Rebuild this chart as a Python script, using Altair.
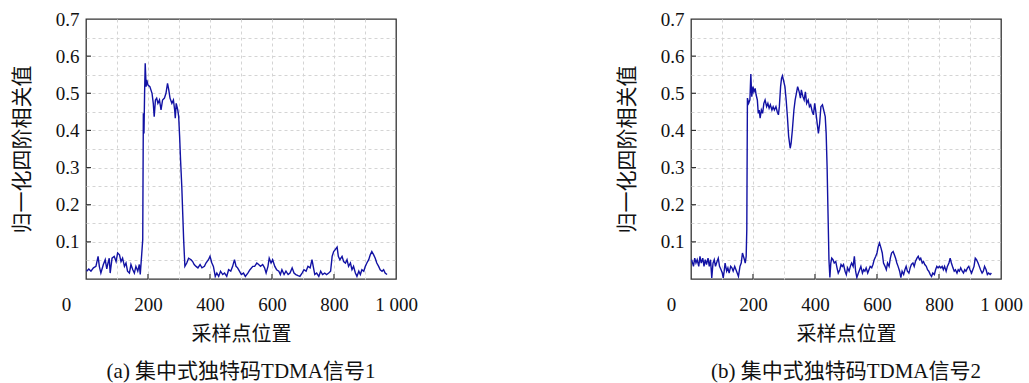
import altair as alt
import pandas as pd

# ---------------- data ----------------
x_a = [2, 9, 16, 24, 32, 39, 43, 48, 56, 62, 67, 71, 75, 78, 84, 91, 97, 102, 108, 113,
       118, 124, 129, 134, 140, 145, 151, 156, 161, 167, 172, 175, 180, 183, 185, 187, 189, 191, 194, 196,
       200, 206, 213, 217, 220, 224, 228, 232, 237, 242, 247, 253, 258, 263, 267, 271, 277, 282, 286, 288,
       291, 296, 299, 302, 305, 309, 312, 315, 319, 325, 331, 339, 344, 349, 355, 361, 368, 374, 382, 387,
       395, 400, 406, 411, 417, 422, 428, 434, 441, 447, 454, 460, 467, 473, 479, 484, 489, 495, 501, 508,
       514, 522, 529, 538, 544, 551, 557, 563, 570, 576, 581, 587, 591, 597, 602, 609, 615, 622, 627, 632,
       639, 645, 652, 658, 665, 671, 677, 684, 690, 697, 703, 710, 716, 723, 729, 733, 738, 744, 751, 757,
       763, 770, 776, 783, 789, 794, 799, 804, 810, 814, 819, 826, 831, 837, 842, 847, 853, 858, 863, 869,
       874, 880, 885, 890, 896, 901, 906, 912, 917, 922, 928, 933, 938, 944, 949, 955, 960, 965, 971]
y_a = [0.021, 0.027, 0.021, 0.030, 0.034, 0.061, 0.034, 0.016, 0.039, 0.052, 0.027, 0.043, 0.056, 0.016, 0.056, 0.061, 0.047, 0.070, 0.065, 0.047,
       0.056, 0.034, 0.043, 0.021, 0.016, 0.039, 0.025, 0.016, 0.034, 0.021, 0.039, 0.012, 0.070, 0.106, 0.446, 0.392, 0.500, 0.581, 0.518, 0.536,
       0.522, 0.518, 0.500, 0.473, 0.437, 0.482, 0.487, 0.473, 0.482, 0.455, 0.482, 0.487, 0.500, 0.527, 0.509, 0.487, 0.473, 0.482, 0.455, 0.433,
       0.473, 0.455, 0.437, 0.384, 0.321, 0.249, 0.177, 0.106, 0.034, 0.043, 0.056, 0.052, 0.047, 0.039, 0.034, 0.030, 0.039, 0.030, 0.034, 0.043,
       0.052, 0.061, 0.043, 0.034, 0.007, 0.016, 0.007, 0.021, 0.012, 0.016, 0.007, 0.025, 0.021, 0.034, 0.052, 0.034, 0.030, 0.021, 0.012, 0.016,
       0.007, 0.016, 0.025, 0.034, 0.034, 0.043, 0.039, 0.034, 0.039, 0.030, 0.016, 0.034, 0.056, 0.043, 0.052, 0.034, 0.025, 0.021, 0.012, 0.025,
       0.012, 0.021, 0.012, 0.016, 0.030, 0.016, 0.012, 0.009, 0.007, 0.016, 0.025, 0.021, 0.034, 0.030, 0.052, 0.034, 0.012, 0.016, 0.007, 0.021,
       0.012, 0.016, 0.012, 0.016, 0.021, 0.061, 0.074, 0.079, 0.086, 0.061, 0.052, 0.061, 0.047, 0.043, 0.052, 0.034, 0.043, 0.025, 0.034, 0.016,
       0.007, 0.021, 0.012, 0.025, 0.021, 0.034, 0.043, 0.052, 0.065, 0.074, 0.065, 0.056, 0.043, 0.034, 0.025, 0.021, 0.025, 0.016, 0.012]

x_b = [2, 8, 12, 16, 20, 25, 29, 33, 38, 42, 46, 50, 55, 59, 63, 67, 71, 75, 79, 84,
       88, 92, 97, 101, 104, 107, 110, 115, 119, 123, 128, 132, 136, 141, 145, 149, 153, 158, 162, 166,
       171, 175, 178, 180, 182, 186, 190, 193, 196, 200, 203, 207, 210, 214, 217, 220, 223, 227, 231, 235,
       239, 244, 248, 252, 256, 261, 265, 269, 274, 278, 282, 285, 289, 292, 295, 298, 303, 307, 311, 315,
       320, 323, 327, 332, 336, 340, 344, 349, 353, 356, 361, 365, 369, 373, 378, 382, 386, 391, 395, 399,
       402, 407, 411, 415, 419, 424, 428, 433, 436, 439, 442, 445, 448, 451, 454, 458, 462, 467, 471, 475,
       480, 484, 488, 492, 497, 501, 505, 510, 514, 518, 523, 527, 531, 535, 540, 544, 548, 553, 557, 561,
       565, 570, 574, 578, 583, 587, 591, 596, 600, 604, 608, 613, 617, 621, 626, 630, 634, 639, 643, 647,
       652, 656, 660, 664, 668, 673, 677, 681, 686, 690, 694, 698, 703, 707, 711, 716, 720, 724, 729, 733,
       737, 741, 746, 750, 754, 759, 763, 767, 772, 776, 780, 785, 789, 793, 797, 801, 806, 810, 814, 818,
       823, 827, 832, 836, 840, 845, 849, 853, 858, 862, 866, 870, 875, 879, 883, 887, 892, 896, 900, 905,
       909, 913, 917, 921, 926, 930, 934, 939, 943, 947, 952, 956, 960, 965, 969]
y_b = [0.052, 0.034, 0.056, 0.043, 0.052, 0.034, 0.061, 0.043, 0.056, 0.034, 0.052, 0.039, 0.056, 0.034, 0.052, 0.003, 0.043, 0.052, 0.034, 0.047,
       0.056, 0.034, 0.025, 0.016, 0.003, 0.021, 0.043, 0.021, 0.030, 0.016, 0.034, 0.030, 0.021, 0.034, 0.025, 0.016, 0.007, 0.034, 0.043, 0.070,
       0.056, 0.043, 0.061, 0.133, 0.487, 0.473, 0.482, 0.552, 0.491, 0.518, 0.504, 0.513, 0.496, 0.482, 0.446, 0.455, 0.433, 0.455, 0.446, 0.473,
       0.482, 0.464, 0.473, 0.460, 0.469, 0.455, 0.464, 0.455, 0.464, 0.451, 0.442, 0.464, 0.518, 0.540, 0.547, 0.536, 0.518, 0.482, 0.437, 0.384,
       0.352, 0.366, 0.401, 0.455, 0.482, 0.500, 0.518, 0.504, 0.487, 0.509, 0.491, 0.482, 0.504, 0.473, 0.482, 0.464, 0.469, 0.451, 0.442, 0.473,
       0.455, 0.419, 0.392, 0.419, 0.464, 0.469, 0.455, 0.437, 0.392, 0.303, 0.177, 0.052, 0.004, 0.043, 0.056, 0.052, 0.043, 0.047, 0.030, 0.016,
       0.025, 0.039, 0.034, 0.039, 0.021, 0.012, 0.030, 0.021, 0.034, 0.043, 0.034, 0.061, 0.021, 0.004, 0.016, 0.025, 0.034, 0.016, 0.025, 0.021,
       0.030, 0.016, 0.025, 0.034, 0.030, 0.039, 0.052, 0.061, 0.070, 0.088, 0.097, 0.083, 0.070, 0.043, 0.034, 0.025, 0.043, 0.034, 0.056, 0.070,
       0.074, 0.065, 0.056, 0.043, 0.034, 0.021, 0.004, 0.021, 0.012, 0.025, 0.034, 0.021, 0.016, 0.030, 0.039, 0.043, 0.034, 0.047, 0.056, 0.061,
       0.052, 0.056, 0.043, 0.047, 0.039, 0.034, 0.025, 0.021, 0.012, 0.007, 0.016, 0.012, 0.025, 0.034, 0.030, 0.034, 0.030, 0.034, 0.025, 0.034,
       0.021, 0.034, 0.043, 0.056, 0.043, 0.030, 0.021, 0.025, 0.016, 0.025, 0.021, 0.030, 0.021, 0.016, 0.025, 0.021, 0.030, 0.034, 0.025, 0.016,
       0.025, 0.034, 0.056, 0.052, 0.043, 0.034, 0.025, 0.016, 0.021, 0.034, 0.025, 0.012, 0.016, 0.012, 0.016]

grid_x = [100 * i for i in range(11)]
grid_y = [round(0.05 * i, 2) for i in range(15)]
tick_x = [200, 400, 600, 800]
tick_y = [0.1, 0.2, 0.3, 0.4, 0.5, 0.6]

subtitles = ["(a) 集中式独特码TDMA信号1", "(b) 集中式独特码TDMA信号2"]
x_title = "采样点位置"
y_title = "归一化四阶相关值"

LINE_COLOR = "#1212a4"
SERIF = "Liberation Serif, Noto Sans CJK SC"
CJK = "Noto Sans CJK SC"
W, H = 310, 260

x_scale = alt.Scale(domain=[0, 1000], nice=False, zero=False)
y_scale = alt.Scale(domain=[0, 0.7], nice=False, zero=False)


def panel(xs, ys, subtitle):
    df = pd.DataFrame({"x": xs, "y": ys})
    x_axis = alt.Axis(
        values=grid_x,
        title=x_title,
        titleFont=CJK,
        titleFontSize=20,
        titleFontWeight="normal",
        titleColor="#111",
        titlePadding=10,
        labelFont=SERIF,
        labelFontSize=19,
        labelColor="#111",
        labelPadding=16,
        labelExpr="datum.value % 200 == 0 ? (datum.value == 1000 ? '1 000' : datum.label) : ''",
        labelOffset={"condition": {"test": "datum.value == 0", "value": -20}, "value": 0},
        labelFlush=False,
        labelOverlap=False,
        ticks=False,
        domain=False,
        grid=True,
        gridColor="#d4d4d4",
        gridDash=[3, 3],
        gridWidth=1,
        gridOpacity={"condition": {"test": "datum.value == 0 || datum.value == 1000", "value": 0}, "value": 1},
    )
    y_axis = alt.Axis(
        values=grid_y,
        title=y_title,
        titleFont=CJK,
        titleFontSize=21,
        titleFontWeight="normal",
        titleColor="#111",
        titlePadding=23,
        labelFont=SERIF,
        labelFontSize=19,
        labelColor="#111",
        labelPadding=7,
        labelExpr="(round(datum.value * 100) % 10 == 0 && datum.value > 0.001) ? format(datum.value, '.1f') : ''",
        labelFlush=False,
        labelOverlap=False,
        ticks=False,
        domain=False,
        grid=True,
        gridColor="#d4d4d4",
        gridDash=[3, 3],
        gridWidth=1,
        gridOpacity={"condition": {"test": "datum.value < 0.001 || datum.value > 0.699", "value": 0}, "value": 1},
    )
    line = alt.Chart(df).mark_line(color=LINE_COLOR, strokeWidth=1.4, clip=True).encode(
        x=alt.X("x:Q", scale=x_scale, axis=x_axis),
        y=alt.Y("y:Q", scale=y_scale, axis=y_axis),
    )
    xt = alt.Chart(pd.DataFrame({"t": tick_x})).mark_rule(color="#333", strokeWidth=1.2).encode(
        x=alt.X("t:Q", scale=x_scale, axis=None), y=alt.value(H), y2=alt.value(H - 5)
    )
    yt = alt.Chart(pd.DataFrame({"t": tick_y})).mark_rule(color="#333", strokeWidth=1.2).encode(
        y=alt.Y("t:Q", scale=y_scale, axis=None), x=alt.value(0), x2=alt.value(5)
    )
    return alt.layer(line, xt, yt).resolve_axis(x="independent", y="independent").properties(
        width=W,
        height=H,
        title=alt.TitleParams(
            subtitle, orient="bottom", font=SERIF, fontSize=21, fontWeight="normal",
            color="#111", offset=17, anchor="middle",
        ),
    )


chart = alt.hconcat(
    panel(x_a, y_a, subtitles[0]),
    panel(x_b, y_b, subtitles[1]),
    spacing=295,
    bounds="flush",
    padding={"left": 10, "top": 9, "right": 0, "bottom": 0},
    background="white",
).configure_view(stroke="#333333", strokeWidth=1.3)

chart.save("out.html", embed_options={"renderer": "svg", "actions": False})
